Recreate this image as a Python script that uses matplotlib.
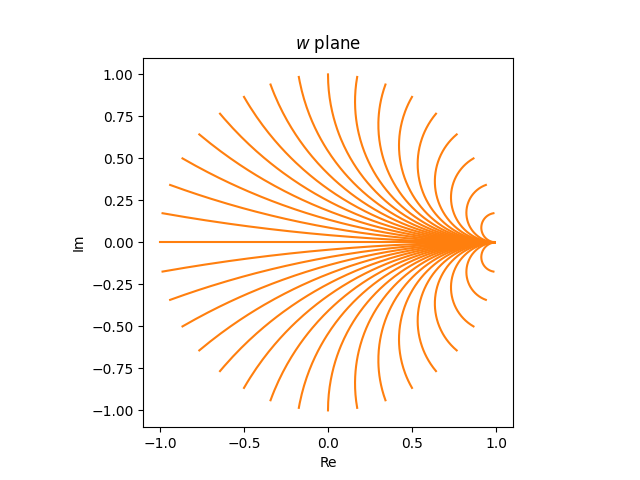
import matplotlib
matplotlib.use('Agg')
import matplotlib.pyplot as plt
import numpy as np

# end angles on the unit circle (degrees)
angles_deg = [-170, -160, -150, -140, -130, -120, -110, -100, -90, -80, -70,
              -60, -50, -40, -30, -20, -10, 10, 20, 30, 40, 50, 60, 70, 80,
              90, 100, 110, 120, 130, 140, 150, 160, 170, 180]

# horizontal lines Im z = c in the right half z plane, c chosen so that
# the Cayley map w = (z-1)/(z+1) starts them at the angles above
c_vals = [np.tan((np.pi - np.deg2rad(a)) / 2) if a != 180 else 0.0
          for a in angles_deg]
x = np.concatenate([np.linspace(0, 10, 400), np.linspace(10, 200, 400)])

fig, ax = plt.subplots(figsize=(6.4, 4.8), dpi=100)
for c in c_vals:
    z = x + 1j * c
    w = (z - 1) / (z + 1)
    ax.plot(w.real, w.imag, color='C1')

ax.set_xlim(-1.1, 1.1)
ax.set_ylim(-1.1, 1.1)
ax.set_aspect('equal')
ax.set_xticks([-1.0, -0.5, 0.0, 0.5, 1.0])
ax.set_yticks(np.arange(-1.0, 1.01, 0.25))
ax.set_xlabel('Re')
ax.set_ylabel('Im')
ax.set_title('$w$ plane')
fig.savefig('out.png')
